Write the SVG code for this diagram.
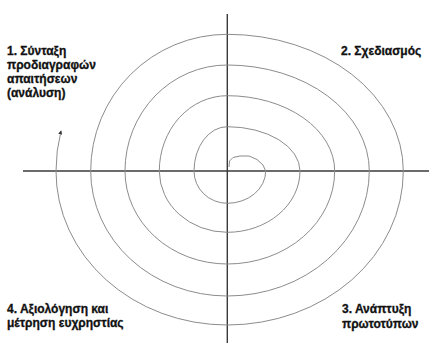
<svg xmlns="http://www.w3.org/2000/svg" width="429" height="345" viewBox="0 0 429 345">
<style>
.lbl{font-family:"Liberation Sans",Arial,sans-serif;font-weight:700;font-size:12px;fill:#111;stroke:#111;stroke-width:0.3}
.axis{stroke:#3a3a3a;stroke-width:1.4;fill:none}
.spiral{stroke:#8c8c8c;stroke-width:1;fill:none}
</style>
<defs>
<marker id="ah" viewBox="0 0 6 6" refX="5" refY="3" markerWidth="4" markerHeight="4" orient="auto" markerUnits="userSpaceOnUse">
<path d="M0,0 L6,3 L0,6 z" fill="#333"/>
</marker>
</defs>
<rect width="429" height="345" fill="#fff"/>
<g id="connectors">
<line class="axis" x1="23" y1="171" x2="429" y2="171"/>
<line class="axis" x1="227.3" y1="14" x2="227.3" y2="343"/>
<path class="spiral" marker-end="url(#ah)" d="M229,167 L229.5,161 L233,157.5 L240,156 L249,156 L257,159.5 L263,165 L265.7,171
A38.4,32.3 0 0 1 227.3,203.3
A33.3,32.3 0 0 1 194,171
A33.3,44.3 0 0 1 227.3,126.7
A72.7,44.3 0 0 1 300,171
A72.7,61.3 0 0 1 227.3,232.3
A68,61.3 0 0 1 159.3,171
A68,75.3 0 0 1 227.3,95.7
A107.4,75.3 0 0 1 334.7,171
A107.4,93 0 0 1 227.3,264
A102.3,93 0 0 1 125,171
A102.3,106 0 0 1 227.3,65
A142,106 0 0 1 369.3,171
A142,125 0 0 1 227.3,296
A136.6,125 0 0 1 90.7,171
A136.6,136.7 0 0 1 227.3,34.3
A176,136.7 0 0 1 403.3,171
A176,154 0 0 1 227.3,325
A171.3,154 0 0 1 56,171
A171.3,166 0 0 1 61,131"/>
</g>
<g id="phase1">
<text class="lbl" x="7" y="55">1. Σύνταξη</text>
<text class="lbl" x="7" y="69">προδιαγραφών</text>
<text class="lbl" x="7" y="83">απαιτήσεων</text>
<text class="lbl" x="7" y="97">(ανάλυση)</text>
</g>
<g id="phase2">
<text class="lbl" x="341" y="55">2. Σχεδιασμός</text>
</g>
<g id="phase3">
<text class="lbl" x="342" y="313">3. Ανάπτυξη</text>
<text class="lbl" x="342" y="327.5">πρωτοτύπων</text>
</g>
<g id="phase4">
<text class="lbl" x="7" y="312.5">4. Αξιολόγηση και</text>
<text class="lbl" x="7" y="326.5">μέτρηση ευχρηστίας</text>
</g>
</svg>
